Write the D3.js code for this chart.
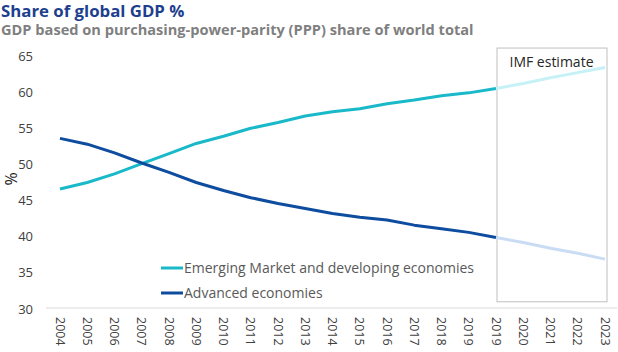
<!DOCTYPE html>
<html lang="en">
<head>
  <meta charset="UTF-8">
  <title>Share of global GDP</title>
  <script src="https://cdn.jsdelivr.net/npm/d3@7"></script>
  <style type="text/css">
    body { margin:0; background:#fff; }
    svg { display:block; }
    text { font-family: "Open Sans", sans-serif; }
  </style>
</head>
<body>
<svg id="chart" width="618" height="352"></svg>
<script>

  // categories (2019 appears twice in the source chart)
  const years = ['2004','2005','2006','2007','2008','2009','2010','2011','2012','2013',
                 '2014','2015','2016','2017','2018','2019','2019','2020','2021','2022','2023'];
  const emerging = [46.6,47.5,48.7,50.1,51.5,52.9,53.9,55.0,55.8,56.7,
                    57.3,57.7,58.4,58.9,59.5,59.9,60.5,61.2,62.0,62.7,63.4];
  const advanced = [53.6,52.8,51.6,50.2,48.9,47.5,46.4,45.4,44.6,43.9,
                    43.2,42.7,42.3,41.6,41.1,40.6,39.9,39.2,38.4,37.7,36.9];
  const yTicks = [30,35,40,45,50,55,60,65];
  const estimateStart = 16;   // index where the IMF estimate begins
  const seriesNames = ['Emerging Market and developing economies', 'Advanced economies'];

  const colEm = '#19b9c9', colEmLight = '#c6f1f7';
  const colAdv = '#0d4c9e', colAdvLight = '#c9dcf4';

  const svg = d3.select('#chart');
  const idx = d3.range(years.length);

  const x = d3.scalePoint().domain(idx).range([60, 605]);
  const y = d3.scaleLinear().domain([30, 65]).range([309, 56]);

  // titles
  svg.append('text').attr('x', 1).attr('y', 16.5)
    .style('font-size', '16.8px').style('font-weight', 'bold').attr('fill', '#1e3f8e')
    .text('Share of global GDP %');
  svg.append('text').attr('x', 1).attr('y', 35)
    .style('font-size', '14.6px').style('font-weight', 'bold').attr('fill', '#7f7f7f')
    .text('GDP based on purchasing-power-parity (PPP) share of world total');

  // y axis labels
  svg.append('g').selectAll('text').data(yTicks).enter().append('text')
    .attr('x', 33).attr('y', d => y(d)).attr('dy', '0.35em')
    .attr('text-anchor', 'end').style('font-size', '13px').attr('fill', '#404040')
    .text(d => d);
  svg.append('text').attr('transform', 'translate(17,' + y(48) + ') rotate(-90)')
    .attr('text-anchor', 'middle').style('font-size', '16px').attr('fill', '#262626')
    .text('%');

  // x axis line
  svg.append('line').attr('x1', 46).attr('x2', 617).attr('y1', y(30) - 1).attr('y2', y(30) - 1)
    .attr('stroke', '#d9d9d9').attr('stroke-width', 1);

  // x labels, rotated
  svg.append('g').selectAll('text').data(idx).enter().append('text')
    .attr('transform', i => 'translate(' + x(i) + ',' + (y(30) + 8) + ') rotate(90)')
    .attr('dy', '0.35em').style('font-size', '12.5px').attr('fill', '#404040')
    .text(i => years[i]);

  // estimate box
  const boxTop = y(66.1), boxBottom = y(31);
  svg.append('rect')
    .attr('x', x(estimateStart) + 1).attr('y', boxTop)
    .attr('width', x(years.length - 1) - x(estimateStart) + 1)
    .attr('height', boxBottom - boxTop)
    .attr('fill', 'none').attr('stroke', '#bfbfbf').attr('stroke-width', 1);
  svg.append('text')
    .attr('x', (x(estimateStart) + x(years.length - 1)) / 2 + 1).attr('y', boxTop + 19)
    .attr('text-anchor', 'middle').style('font-size', '14px').attr('fill', '#262626')
    .text('IMF estimate');

  // lines
  const line = d3.line().x(d => x(d.i)).y(d => y(d.v));
  function drawSeries(vals, col, light) {
    const pts = vals.map((v, i) => ({i: i, v: v}));
    svg.append('path').datum(pts.slice(estimateStart))
      .attr('d', line).attr('fill', 'none').attr('stroke', light).attr('stroke-width', 3);
    svg.append('path').datum(pts.slice(0, estimateStart + 1))
      .attr('d', line).attr('fill', 'none').attr('stroke', col).attr('stroke-width', 3)
      .attr('stroke-linejoin', 'round');
  }
  drawSeries(emerging, colEm, colEmLight);
  drawSeries(advanced, colAdv, colAdvLight);

  // legend
  const legend = svg.append('g').attr('transform', 'translate(161,268)');
  [colEm, colAdv].forEach((c, k) => {
    const g = legend.append('g').attr('transform', 'translate(0,' + k * 25 + ')');
    g.append('line').attr('x1', 0).attr('x2', 22).attr('stroke', c).attr('stroke-width', 3);
    g.append('text').attr('x', 23).attr('dy', '0.35em')
      .style('font-size', '14px').attr('fill', '#595959').text(seriesNames[k]);
  });

</script>
</body>
</html>
